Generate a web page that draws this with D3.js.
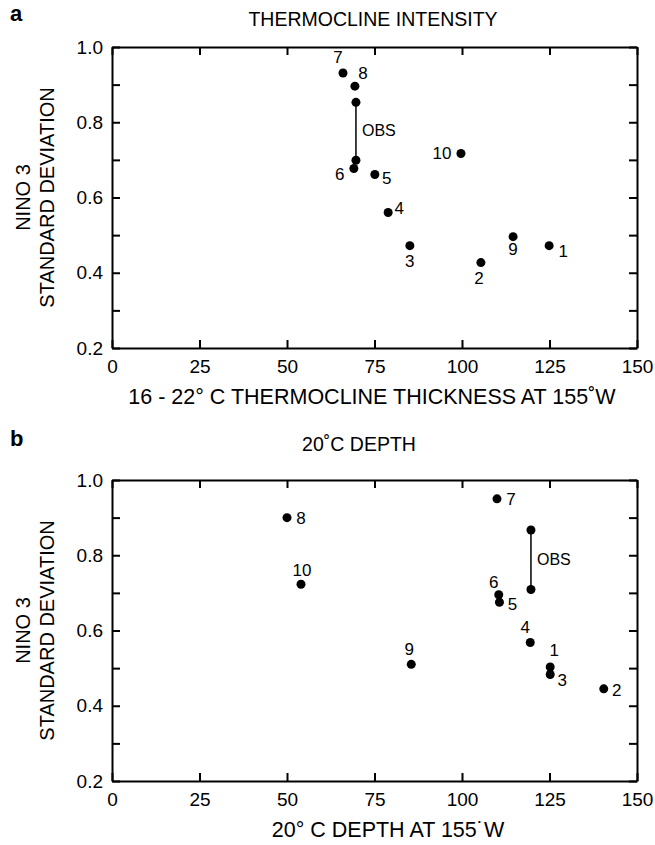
<!DOCTYPE html>
<html>
<head>
<meta charset="utf-8">
<script src="https://cdn.jsdelivr.net/npm/d3@7"></script>
<style>
  body { margin: 0; background: #fff; }
  svg { font-family: "Liberation Sans", Arial, Helvetica, sans-serif; }
  .axis path, .axis line { stroke: #000; stroke-width: 2; }
  .axis text { font-size: 19px; fill: #000; }
</style>
</head>
<body>
<svg id="chart" width="655" height="845"></svg>
<script>
// panel a: thermocline intensity
var aLabels = ['1', '2', '3', '4', '5', '6', '7', '8', '9', '10'];
var aThickness = [124.9, 105.4, 85.1, 78.9, 75.1, 69.1, 66.0, 69.4, 114.6, 99.7];
var aStd = [0.472, 0.427, 0.472, 0.560, 0.661, 0.677, 0.931, 0.896, 0.496, 0.717];
var aObsX = 69.7;
var aObsStd = [0.853, 0.699];

// panel b: 20C depth
var bLabels = ['1', '2', '3', '4', '5', '6', '7', '8', '9', '10'];
var bDepth = [125.2, 140.5, 125.2, 119.5, 110.7, 110.5, 110.0, 50.0, 85.5, 54.0];
var bStd = [0.503, 0.445, 0.483, 0.568, 0.675, 0.695, 0.950, 0.900, 0.510, 0.723];
var bObsX = 119.7;
var bObsStd = [0.867, 0.709];

var xTicks = [0, 25, 50, 75, 100, 125, 150];
var yTicks = [0.2, 0.3, 0.4, 0.5, 0.6, 0.7, 0.8, 0.9, 1.0];
var yLabelTicks = [0.2, 0.4, 0.6, 0.8, 1.0];

// where each point number sits relative to its dot
var aPlace = {'1': [14, 5], '2': [-2, 15], '3': [0, 15], '4': [11, -5], '5': [12, 4],
              '6': [-14, 6], '7': [-5, -16], '8': [8, -13], '9': [0, 12], '10': [-19, 0]};
var bPlace = {'1': [4, -17], '2': [13, 1], '3': [12, 6], '4': [-5, -15], '5': [13, 2],
              '6': [-5, -13], '7': [14, 0], '8': [14, 0], '9': [-2, -15], '10': [1, -14]};

var svg = d3.select('#chart');

drawPanel({
    letter: 'a', title: 'THERMOCLINE INTENSITY', titleX: 373, titleY: 26,
    top: 47, xTitle: '16 - 22\u00b0 C THERMOCLINE THICKNESS AT 155\u02daW', xTitleX: 372,
    labels: aLabels, xs: aThickness, ys: aStd, place: aPlace,
    obsX: aObsX, obsY: aObsStd
});
drawPanel({
    letter: 'b', title: '20\u02daC DEPTH', titleX: 359, titleY: 451,
    top: 480, xTitle: '20\u00b0 C DEPTH AT 155\u02d9W', xTitleX: 388,
    labels: bLabels, xs: bDepth, ys: bStd, place: bPlace,
    obsX: bObsX, obsY: bObsStd
});

function drawPanel(p) {
    var left = 112, right = 637, top = p.top, bottom = p.top + 301;

    var x = d3.scaleLinear().domain([0, 150]).range([left, right]);
    var y = d3.scaleLinear().domain([0.2, 1.0]).range([bottom, top]);

    svg.append('text')
        .attr('x', 10).attr('y', p.titleY - 5)
        .style('font-size', '22px').style('font-weight', 'bold')
        .text(p.letter);

    svg.append('text')
        .attr('x', p.titleX).attr('y', p.titleY)
        .attr('text-anchor', 'middle')
        .style('font-size', '19.5px')
        .text(p.title);

    // frame with inward ticks on all four sides
    svg.append('g').attr('class', 'axis')
        .attr('transform', 'translate(0,' + bottom + ')')
        .call(d3.axisBottom(x).tickValues(xTicks).tickSizeInner(-8).tickSizeOuter(0).tickPadding(12)
            .tickFormat(d3.format('d')));
    svg.append('g').attr('class', 'axis')
        .attr('transform', 'translate(0,' + top + ')')
        .call(d3.axisTop(x).tickValues(xTicks).tickSizeInner(-8).tickSizeOuter(0).tickFormat(''));
    svg.append('g').attr('class', 'axis')
        .attr('transform', 'translate(' + left + ',0)')
        .call(d3.axisLeft(y).tickValues(yTicks).tickSizeInner(-8).tickSizeOuter(0).tickPadding(9)
            .tickFormat(function(d){
                return yLabelTicks.some(function(v){ return Math.abs(v - d) < 1e-6; }) ? d3.format('.1f')(d) : '';
            }));
    svg.append('g').attr('class', 'axis')
        .attr('transform', 'translate(' + right + ',0)')
        .call(d3.axisRight(y).tickValues(yTicks).tickSizeInner(-8).tickSizeOuter(0).tickFormat(''));

    svg.append('text')
        .attr('x', p.xTitleX).attr('y', bottom + 56)
        .attr('text-anchor', 'middle')
        .style('font-size', '21.5px')
        .text(p.xTitle);

    var ymid = (top + bottom) / 2;
    svg.append('text')
        .attr('transform', 'translate(30,' + ymid + ') rotate(-90)')
        .attr('text-anchor', 'middle')
        .style('font-size', '20px')
        .text('NINO 3');
    svg.append('text')
        .attr('transform', 'translate(54,' + ymid + ') rotate(-90)')
        .attr('text-anchor', 'middle')
        .style('font-size', '20px')
        .text('STANDARD DEVIATION');

    // observed range
    svg.append('line')
        .attr('x1', x(p.obsX)).attr('x2', x(p.obsX))
        .attr('y1', y(p.obsY[0])).attr('y2', y(p.obsY[1]))
        .attr('stroke', '#000').attr('stroke-width', 1.5);
    svg.selectAll(null).data(p.obsY).enter().append('circle')
        .attr('cx', x(p.obsX)).attr('cy', function(d){ return y(d); })
        .attr('r', 4.5).attr('fill', '#000');
    svg.append('text')
        .attr('x', x(p.obsX) + 6)
        .attr('y', (y(p.obsY[0]) + y(p.obsY[1])) / 2 + 5)
        .style('font-size', '16px')
        .text('OBS');

    var pts = p.labels.map(function(l, i){ return {label: l, x: p.xs[i], y: p.ys[i]}; });

    svg.selectAll(null).data(pts).enter().append('circle')
        .attr('cx', function(d){ return x(d.x); })
        .attr('cy', function(d){ return y(d.y); })
        .attr('r', 4.5).attr('fill', '#000');

    svg.selectAll(null).data(pts).enter().append('text')
        .attr('x', function(d){ return x(d.x) + p.place[d.label][0]; })
        .attr('y', function(d){ return y(d.y) + p.place[d.label][1]; })
        .attr('dy', '0.35em')
        .attr('text-anchor', 'middle')
        .style('font-size', '17px')
        .text(function(d){ return d.label; });
}
</script>
</body>
</html>
